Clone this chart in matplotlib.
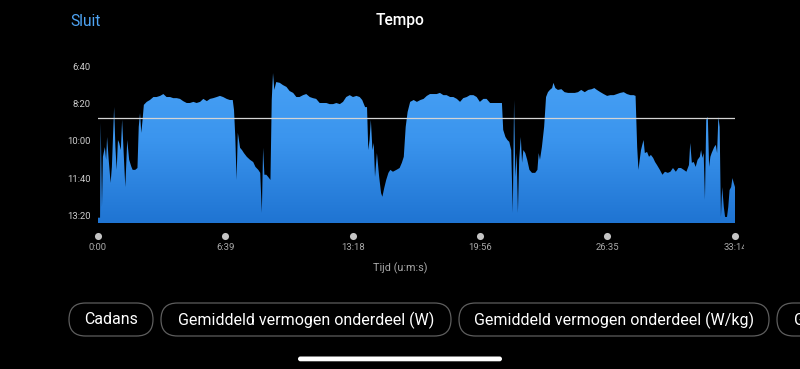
import numpy as np
import matplotlib
matplotlib.use('Agg')
import matplotlib.pyplot as plt
from matplotlib.colors import LinearSegmentedColormap
from matplotlib.patches import Polygon, FancyBboxPatch, Rectangle
from matplotlib.ticker import FuncFormatter
from matplotlib.transforms import blended_transform_factory

plt.rcParams['font.family'] = ['Roboto', 'DejaVu Sans']

# tijd (s) en tempo (s per km)
tijd = [0, 8, 10, 14, 17, 23, 27, 30, 35, 41, 45, 52, 56, 60, 64, 68, 73, 77, 81, 87,
        93, 99, 106, 110, 118, 125, 129, 133, 137, 141, 145, 154, 164, 175, 185, 196,
        206, 216, 227, 237, 248, 258, 268, 279, 289, 300, 310, 321, 331, 342, 352, 362,
        373, 383, 393, 404, 414, 423, 427, 431, 435, 439, 446, 452, 458, 467, 477, 487,
        494, 503, 509, 514, 518, 522, 528, 534, 541, 545, 549, 553, 559, 570, 580, 591,
        601, 612, 622, 632, 643, 653, 664, 674, 684, 695, 705, 716, 726, 737, 747, 758,
        768, 778, 789, 799, 810, 820, 828, 837, 843, 847, 851, 855, 860, 864, 868, 874,
        881, 887, 891, 897, 903, 910, 916, 924, 935, 945, 952, 958, 964, 970, 978, 989,
        999, 1010, 1020, 1030, 1040, 1050, 1061, 1071, 1082, 1092, 1103, 1113, 1124,
        1134, 1144, 1155, 1165, 1176, 1186, 1196, 1207, 1217, 1228, 1238, 1249, 1259,
        1265, 1269, 1276, 1282, 1288, 1294, 1299, 1303, 1307, 1311, 1315, 1319, 1324,
        1328, 1332, 1338, 1344, 1351, 1359, 1369, 1376, 1380, 1384, 1390, 1397, 1403,
        1409, 1415, 1422, 1426, 1432, 1440, 1451, 1461, 1472, 1482, 1493, 1503, 1513,
        1524, 1535, 1546, 1554, 1562, 1573, 1583, 1594, 1604, 1615, 1625, 1635, 1646,
        1656, 1667, 1677, 1683, 1688, 1692, 1696, 1700, 1704, 1708, 1712, 1719, 1725,
        1731, 1738, 1744, 1750, 1759, 1767, 1775, 1784, 1792, 1800, 1809, 1817, 1825,
        1834, 1842, 1850, 1854, 1859, 1865, 1871, 1877, 1884, 1888, 1892, 1896, 1900,
        1904, 1909, 1913, 1917, 1921, 1925, 1929, 1934, 1938, 1942, 1946, 1950, 1954,
        1959, 1963, 1969, 1973, 1977, 1982, 1986, 1990, 1994]
tempo = [806, 806, 552, 777, 643, 617, 651, 590, 651, 713, 670, 510, 617, 678, 598, 606,
         625, 544, 617, 724, 598, 651, 670, 678, 678, 673, 563, 526, 579, 544, 504, 496,
         491, 483, 483, 480, 475, 483, 483, 486, 486, 488, 494, 499, 499, 496, 499, 496,
         488, 494, 488, 486, 483, 480, 483, 488, 491, 491, 518, 590, 705, 579, 619, 625,
         633, 643, 651, 657, 670, 678, 686, 793, 619, 691, 691, 697, 705, 491, 419, 464,
         443, 445, 451, 456, 467, 472, 483, 483, 478, 475, 483, 486, 488, 499, 499, 499,
         502, 502, 499, 502, 496, 483, 478, 483, 480, 483, 491, 510, 510, 625, 598, 544,
         625, 606, 697, 633, 697, 740, 750, 726, 705, 686, 678, 683, 678, 673, 659, 643,
         563, 523, 496, 491, 496, 491, 488, 480, 475, 475, 475, 472, 478, 478, 483, 483,
         488, 496, 486, 483, 478, 478, 483, 496, 488, 488, 499, 499, 499, 499, 499, 571,
         590, 598, 603, 625, 793, 491, 697, 633, 793, 651, 590, 659, 625, 633, 651, 678,
         686, 686, 678, 633, 651, 617, 563, 483, 470, 464, 459, 445, 459, 464, 462, 470,
         472, 472, 472, 470, 464, 470, 464, 462, 459, 464, 470, 475, 480, 478, 478, 475,
         472, 470, 475, 478, 478, 480, 617, 678, 651, 625, 611, 598, 633, 630, 643, 638,
         646, 657, 665, 678, 691, 683, 686, 683, 673, 683, 673, 673, 678, 683, 665, 606,
         659, 657, 670, 651, 643, 625, 646, 633, 758, 544, 536, 670, 643, 633, 625, 617,
         611, 633, 536, 563, 804, 724, 777, 804, 804, 777, 732, 724, 700, 713, 724]

gem_tempo = 540
x_ticks = [0, 399, 798, 1196, 1595, 1994]
y_ticks = [400, 500, 600, 700, 800]
knoppen = ['Cadans', 'Gemiddeld vermogen onderdeel (W)',
           'Gemiddeld vermogen onderdeel (W/kg)', 'Gemiddelde hartslag']


def mmss(s, pos=None):
    s = int(round(s))
    return '%d:%02d' % (s // 60, s % 60)


W, H = 800, 369
fig = plt.figure(figsize=(8, 3.69), dpi=100, facecolor='black')

# laag voor de knoppen en koptekst, in pixels
ui = fig.add_axes([0, 0, 1, 1])
ui.set_xlim(0, W)
ui.set_ylim(H, 0)
ui.axis('off')

y_bot, y_top = 821, 370
ax = fig.add_axes([97.5 / W, 1 - 223.3 / H, (735 - 97.5) / W, (223.3 - 54.8) / H])
ax.set_facecolor('black')

# vlak met verloop van licht naar donker blauw
cmap = LinearSegmentedColormap.from_list('tempo', ['#1f74d2', '#3b95ee', '#4ba4f7'])
grad = np.linspace(0, 1, 256).reshape(-1, 1)
im = ax.imshow(grad, extent=[0, tijd[-1], y_bot, y_top], origin='lower',
               aspect='auto', cmap=cmap, interpolation='bilinear')
verts = np.column_stack([np.r_[tijd[0], tijd, tijd[-1]], np.r_[y_bot, tempo, y_bot]])
vlak = Polygon(verts, closed=True, facecolor='none', edgecolor='none', transform=ax.transData)
ax.add_patch(vlak)
im.set_clip_path(vlak)

ax.axhline(gem_tempo, color='#d4d4d4', lw=0.9)

ax.set_xlim(0, tijd[-1])
ax.set_ylim(y_bot, y_top)
for s in ax.spines.values():
    s.set_visible(False)

ax.set_yticks(y_ticks)
ax.yaxis.set_major_formatter(FuncFormatter(mmss))
ax.tick_params(axis='y', length=0, pad=4.7, labelsize=6.8, labelcolor='#cccccc')
ax.set_xticks(x_ticks)
ax.xaxis.set_major_formatter(FuncFormatter(mmss))
ax.tick_params(axis='x', length=0, pad=14.5, labelsize=6.8, labelcolor='#a8a8a8')

knip = Rectangle((0, 0), 744, H, transform=ui.transData)
for lab in ax.get_xticklabels():
    lab.set_clip_path(knip)

trans = blended_transform_factory(ax.transData, ax.transAxes)
ax.scatter(x_ticks, [-0.075] * len(x_ticks), s=26, color='#c4c4c4',
           transform=trans, clip_on=False, zorder=5, linewidths=0)

ui.text(400, 268, 'Tijd (u:m:s)', color='#a8a8a8', fontsize=7.8, ha='center', va='center')

# koptekst
ui.text(85.5, 21, 'Sluit', color='#4ea4f4', fontsize=11.2, ha='center', va='center')
ui.text(400.5, 20.5, 'Tempo', color='white', fontsize=11.2, fontweight='medium',
        ha='center', va='center')

# knoppen onderaan
randen = [(69, 153), (161, 451), (459, 769), (777, 959)]
for tekst, (x0, x1) in zip(knoppen, randen):
    knop = FancyBboxPatch((x0, 303), x1 - x0, 33, boxstyle='round,pad=0,rounding_size=16.5',
                          facecolor='black', edgecolor='#5e5e5e', lw=0.9,
                          transform=ui.transData)
    ui.add_patch(knop)
    ui.text((x0 + x1) / 2, 320, tekst, color='white', fontsize=11.5, ha='center', va='center')

ui.add_patch(FancyBboxPatch((298, 356.5), 204, 4.8, boxstyle='round,pad=0,rounding_size=2.4',
                            facecolor='white', edgecolor='none', transform=ui.transData))

fig.savefig('out.png', dpi=100, facecolor='black')
